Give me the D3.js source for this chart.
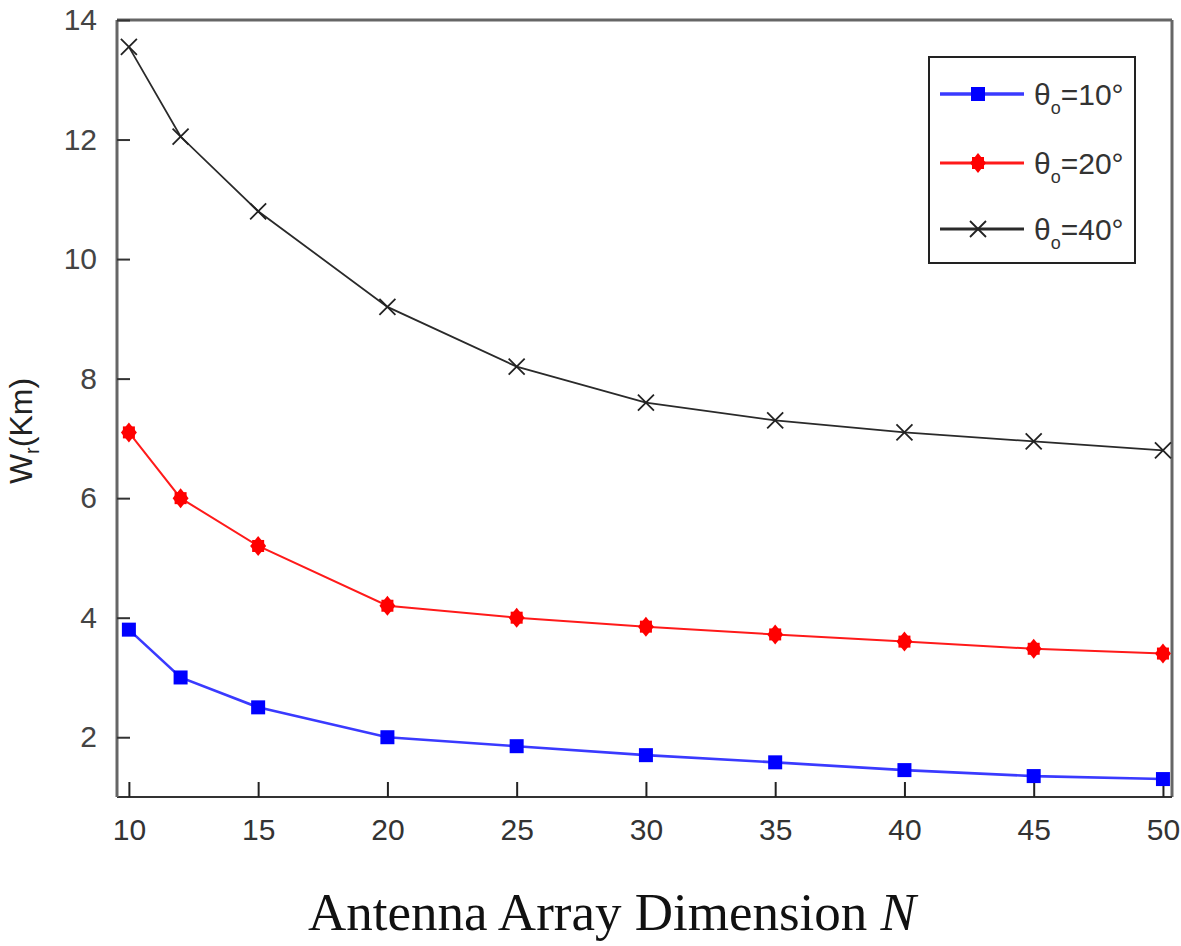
<!DOCTYPE html>
<html>
<head>
<meta charset="utf-8">
<script src="https://cdn.jsdelivr.net/npm/d3@7"></script>
<style>
  html, body { margin: 0; padding: 0; background: #fff; }
  svg { display: block; }
</style>
</head>
<body>
<svg id="chart" width="1181" height="946"></svg>
<script>
// ---- data ----
const N = [10, 12, 15, 20, 25, 30, 35, 40, 45, 50];
const theta10 = [3.8, 3.0, 2.5, 2.0, 1.85, 1.7, 1.58, 1.45, 1.35, 1.3];
const theta20 = [7.1, 6.0, 5.2, 4.2, 4.0, 3.85, 3.72, 3.6, 3.48, 3.4];
const theta40 = [13.55, 12.05, 10.8, 9.2, 8.2, 7.6, 7.3, 7.1, 6.95, 6.8];
const seriesNames = ["10", "20", "40"];
const xTicks = [10, 15, 20, 25, 30, 35, 40, 45, 50];
const yTicks = [2, 4, 6, 8, 10, 12, 14];

const svg = d3.select("#chart");
const L = 117, R = 1172, T = 20, B = 797;
const x = d3.scaleLinear().domain([9.54, 50.35]).range([L, R]);
const y = d3.scaleLinear().domain([1, 14]).range([B, T]);

const series = [
  { name: seriesNames[0], values: theta10, color: "#0000ff", line: "#3a3aff", width: 2.6, marker: "square" },
  { name: seriesNames[1], values: theta20, color: "#ff0000", line: "#ff1a1a", width: 2, marker: "diamond" },
  { name: seriesNames[2], values: theta40, color: "#222", line: "#2a2a2a", width: 1.8, marker: "x" }
];

// frame
svg.append("line").attr("x1", L).attr("x2", R).attr("y1", T).attr("y2", T).attr("stroke", "#666").attr("stroke-width", 3);
svg.append("line").attr("x1", R).attr("x2", R).attr("y1", T).attr("y2", B).attr("stroke", "#666").attr("stroke-width", 3);

// axes
const xAxis = d3.axisBottom(x).tickValues(xTicks).tickSizeInner(-15).tickSizeOuter(0).tickPadding(22);
const gx = svg.append("g").attr("transform", `translate(0,${B})`).call(xAxis);
gx.select(".domain").attr("stroke", "#333").attr("stroke-width", 2.2).attr("d", `M${L},0H${R}`);
gx.selectAll(".tick line").attr("stroke", "#222").attr("stroke-width", 2);
gx.selectAll(".tick text").attr("font-family", "Liberation Sans, Arial, sans-serif").attr("font-size", 30).attr("fill", "#333");

const yAxis = d3.axisLeft(y).tickValues(yTicks).tickSizeInner(-13).tickSizeOuter(0).tickPadding(20);
const gy = svg.append("g").attr("transform", `translate(${L},0)`).call(yAxis);
gy.select(".domain").attr("stroke", "#666").attr("stroke-width", 3).attr("d", `M0,${T}V${B}`);
gy.selectAll(".tick line").attr("stroke", "#333").attr("stroke-width", 2);
gy.selectAll(".tick text").attr("font-family", "Liberation Sans, Arial, sans-serif").attr("font-size", 30).attr("fill", "#444");

// lines
const line = d3.line().x((d, i) => x(N[i])).y(d => y(d));
function marker(g, type, color, cx, cy) {
  if (type === "square") {
    g.append("rect").attr("x", cx - 7).attr("y", cy - 7).attr("width", 14).attr("height", 14).attr("fill", color);
  } else if (type === "diamond") {
    g.append("path").attr("d", `M${cx},${cy - 10}L${cx + 8},${cy}L${cx},${cy + 10}L${cx - 8},${cy}Z`).attr("fill", color);
    g.append("rect").attr("x", cx - 6).attr("y", cy - 6).attr("width", 12).attr("height", 12).attr("fill", color);
  } else {
    const s = 8;
    g.append("path").attr("d", `M${cx - s},${cy - s}L${cx + s},${cy + s}M${cx - s},${cy + s}L${cx + s},${cy - s}`)
      .attr("stroke", color).attr("stroke-width", 1.8).attr("fill", "none");
  }
}
series.forEach(s => {
  svg.append("path").datum(s.values).attr("d", line).attr("fill", "none")
    .attr("stroke", s.line).attr("stroke-width", s.width);
  const g = svg.append("g");
  s.values.forEach((v, i) => marker(g, s.marker, s.color, x(N[i]), y(v)));
});

// legend
const lg = svg.append("g");
lg.append("rect").attr("x", 929).attr("y", 57).attr("width", 206).attr("height", 206)
  .attr("fill", "#fff").attr("stroke", "#222").attr("stroke-width", 2);
const rowsY = [94, 163, 229];
series.forEach((s, i) => {
  const ly = rowsY[i];
  lg.append("line").attr("x1", 940).attr("x2", 1024).attr("y1", ly).attr("y2", ly)
    .attr("stroke", s.line).attr("stroke-width", s.width + 1);
  marker(lg, s.marker, s.color, 978, ly);
  const t = lg.append("text").attr("x", 1034).attr("y", ly + 11)
    .attr("font-family", "Liberation Sans, Arial, sans-serif").attr("font-size", 30).attr("fill", "#333");
  t.append("tspan").text("θ");
  t.append("tspan").attr("font-size", 18).attr("dy", 9).text("o");
  t.append("tspan").attr("dy", -9).text("=" + s.name + "°");
});

// axis titles
const xt = svg.append("text").attr("x", 308).attr("y", 930)
  .attr("font-family", "Liberation Serif, Times New Roman, serif").attr("font-size", 53).attr("fill", "#111");
xt.append("tspan").text("Antenna Array Dimension ");
xt.append("tspan").attr("font-style", "italic").text("N");

const yt = svg.append("text").attr("transform", "translate(32,431) rotate(-90)").attr("text-anchor", "middle")
  .attr("font-family", "Liberation Sans, Arial, sans-serif").attr("font-size", 32).attr("fill", "#222");
yt.append("tspan").text("W");
yt.append("tspan").attr("font-size", 20).attr("dy", 7).text("r");
yt.append("tspan").attr("dy", -7).text("(Km)");
</script>
</body>
</html>
